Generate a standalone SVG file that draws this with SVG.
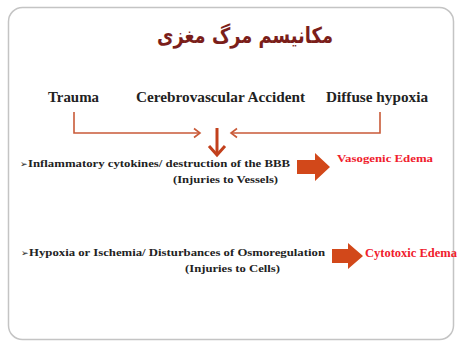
<svg xmlns="http://www.w3.org/2000/svg" width="457" height="342" viewBox="0 0 457 342">
<style>
.ln{fill:none;stroke:#c95a38;stroke-width:1.6}
.blk{fill:#d2481a}
</style>
<rect width="457" height="342" fill="#fff"/>
<rect x="8.5" y="7.5" width="445" height="332" rx="14" fill="#fff" stroke="#c4c4c4" stroke-width="1.5"/>
<g id="title"><text x="245" y="43" text-anchor="middle" font-family="DejaVu Sans" font-weight="bold" font-size="22" fill="#7b1e1a" direction="rtl" textLength="176" lengthAdjust="spacingAndGlyphs">مکانیسم مرگ مغزی</text></g>
<g id="trauma"><text font-family="Liberation Serif" font-weight="bold" fill="#222" x="48" y="102" font-size="14" textLength="51" lengthAdjust="spacingAndGlyphs">Trauma</text></g>
<g id="cva"><text font-family="Liberation Serif" font-weight="bold" fill="#222" x="136" y="102" font-size="14" textLength="169" lengthAdjust="spacingAndGlyphs">Cerebrovascular Accident</text></g>
<g id="hypoxia"><text font-family="Liberation Serif" font-weight="bold" fill="#222" x="326" y="102" font-size="14" textLength="102" lengthAdjust="spacingAndGlyphs">Diffuse hypoxia</text></g>
<g id="connectors">
<polyline class="ln" points="74,112 74,133 199,133"/>
<polyline class="ln" points="194,128.5 200,133 194,137.5"/>
<polyline class="ln" points="380,112 380,133 231,133"/>
<polyline class="ln" points="237,128.5 231,133 237,137.5"/>
<line x1="217" y1="128" x2="217" y2="155" stroke="#c2401c" stroke-width="3"/>
<polyline points="209,146 217,155 225,146" fill="none" stroke="#c2401c" stroke-width="3"/>
<polygon class="blk" points="297,160 315,160 315,153 330,167 315,181 315,174 297,174"/>
<polygon class="blk" points="332,249 348,249 348,243 363,256 348,269 348,263 332,263"/>
</g>
<g id="vessels">
<text x="20" y="167" font-family="DejaVu Sans" font-size="9" fill="#222">➢</text>
<text font-family="Liberation Serif" font-weight="bold" fill="#222" x="28" y="167" font-size="11" textLength="262" lengthAdjust="spacingAndGlyphs">Inflammatory cytokines/ destruction of the BBB</text>
<text font-family="Liberation Serif" font-weight="bold" fill="#222" x="173" y="183" font-size="11" textLength="105" lengthAdjust="spacingAndGlyphs">(Injuries to Vessels)</text>
</g>
<g id="vasogenic"><text font-family="Liberation Serif" font-weight="bold" fill="#f0202c" x="337" y="162" font-size="11" textLength="96" lengthAdjust="spacingAndGlyphs">Vasogenic Edema</text></g>
<g id="cells">
<text x="21" y="256" font-family="DejaVu Sans" font-size="9" fill="#222">➢</text>
<text font-family="Liberation Serif" font-weight="bold" fill="#222" x="29" y="256" font-size="11" textLength="296" lengthAdjust="spacingAndGlyphs">Hypoxia or Ischemia/ Disturbances of Osmoregulation</text>
<text font-family="Liberation Serif" font-weight="bold" fill="#222" x="185" y="272" font-size="11" textLength="95" lengthAdjust="spacingAndGlyphs">(Injuries to Cells)</text>
</g>
<g id="cytotoxic"><text font-family="Liberation Serif" font-weight="bold" fill="#f0202c" x="365" y="257" font-size="12" textLength="92" lengthAdjust="spacingAndGlyphs">Cytotoxic Edema</text></g>
</svg>
